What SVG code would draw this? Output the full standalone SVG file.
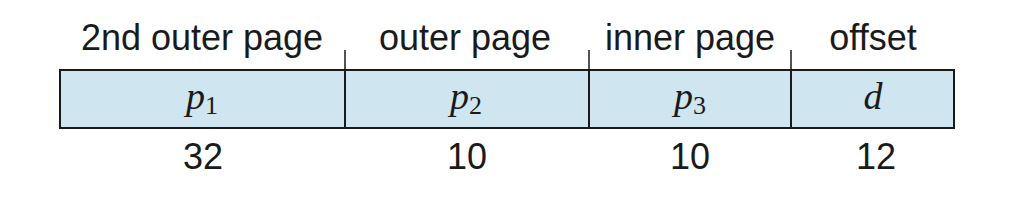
<svg xmlns="http://www.w3.org/2000/svg" width="1014" height="204" viewBox="0 0 1014 204">
<style>
.lbl{font-family:"Liberation Sans",Arial,sans-serif;font-size:36px;fill:#1a1a1a;text-anchor:middle}
.var{font-family:"Liberation Serif","Times New Roman",serif;font-style:italic;font-size:38px;fill:#1a1a1a;text-anchor:middle}
.sub{font-size:26px;font-style:normal}
.cell{fill:#cfe5ef;stroke:#1a1a1a;stroke-width:2}
.tick{stroke:#1a1a1a;stroke-width:1.5;fill:none}
</style>
<rect x="0" y="0" width="1014" height="204" fill="#ffffff"/>
<g id="field-p1">
<rect class="cell" x="60" y="70" width="285" height="58"/>
<text class="lbl" x="202" y="50">2nd outer page</text>
<text class="var" x="202" y="109">p<tspan class="sub" dy="5">1</tspan></text>
<text class="lbl" x="203" y="169">32</text>
</g>
<g id="field-p2">
<rect class="cell" x="345" y="70" width="244" height="58"/>
<text class="lbl" x="465" y="50">outer page</text>
<text class="var" x="466" y="109">p<tspan class="sub" dy="5">2</tspan></text>
<text class="lbl" x="467" y="169">10</text>
</g>
<g id="field-p3">
<rect class="cell" x="589" y="70" width="202" height="58"/>
<text class="lbl" x="690" y="50">inner page</text>
<text class="var" x="690" y="109">p<tspan class="sub" dy="5">3</tspan></text>
<text class="lbl" x="690" y="169">10</text>
</g>
<g id="field-d">
<rect class="cell" x="791" y="70" width="163" height="58"/>
<text class="lbl" x="873" y="50">offset</text>
<text class="var" x="873" y="109">d</text>
<text class="lbl" x="876" y="169">12</text>
</g>
<g id="connectors">
<line class="tick" x1="345" y1="50" x2="345" y2="70"/>
<line class="tick" x1="589" y1="50" x2="589" y2="70"/>
<line class="tick" x1="791" y1="50" x2="791" y2="70"/>
</g>
</svg>
